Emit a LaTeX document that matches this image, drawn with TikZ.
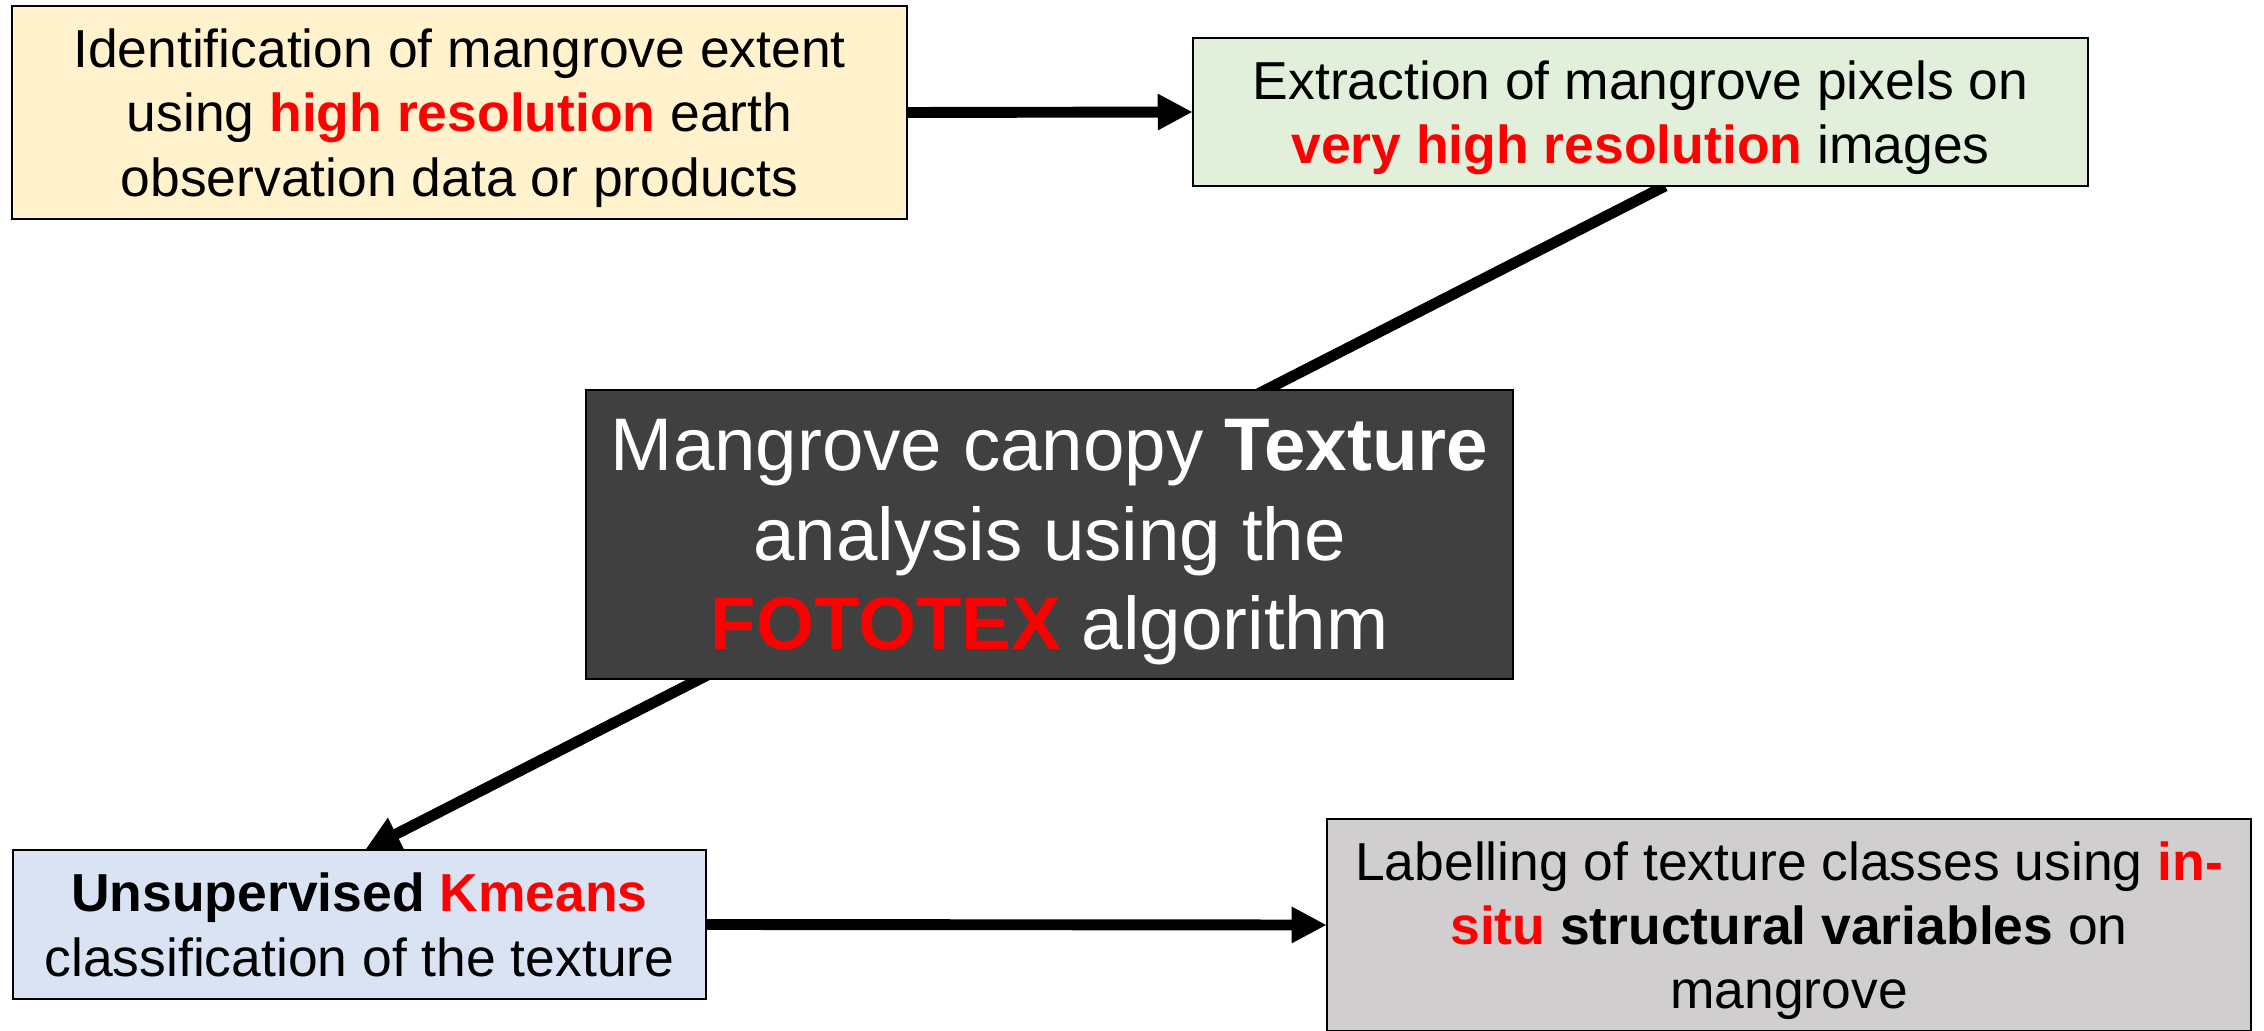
\documentclass[tikz,border=0pt]{standalone}
\usepackage{fontspec}
\setmainfont{Liberation Sans}
\usetikzlibrary{arrows.meta,backgrounds}
\definecolor{boxyellow}{HTML}{FFF2CC}
\definecolor{boxgreen}{HTML}{E2EFDA}
\definecolor{boxblue}{HTML}{DAE3F3}
\definecolor{boxgray}{HTML}{D0CECE}
\definecolor{boxdark}{HTML}{404040}
\definecolor{hl}{HTML}{FF0000}
\newcommand{\hlb}[1]{\textcolor{hl}{\textbf{#1}}}
\tikzset{
  box/.style={draw=black, line width=0.6pt, inner sep=0pt, outer sep=0pt, align=center,
    text depth=0pt, font=\fontsize{15.2}{18.3}\selectfont},
  conn/.style={line width=3.1pt, -{Triangle[length=0.35cm,width=0.34cm]}}
}
\begin{document}
\begin{tikzpicture}[x=0.01cm,y=-0.01cm]
\useasboundingbox (0,0) rectangle (2264,1031);
\node[box, fill=boxyellow, minimum width=8.95cm, minimum height=2.13cm] (ident) at (459.5,112.5)
  {Identification of mangrove extent\\ using \hlb{high resolution} earth\\ observation data or products};
\node[box, fill=boxgreen, minimum width=8.95cm, minimum height=1.48cm] (extr) at (1640.5,112)
  {Extraction of mangrove pixels on\\ \hlb{very high resolution} images};
\node[box, fill=boxblue, minimum width=6.93cm, minimum height=1.49cm] (kmeans) at (359.5,924.5)
  {\textbf{Unsupervised} \hlb{Kmeans}\\ classification of the texture};
\node[box, fill=boxgray, minimum width=9.24cm, minimum height=2.12cm] (label) at (1789,925)
  {Labelling of texture classes using \hlb{in-}\\ \hlb{situ} \textbf{structural variables} on\\ mangrove};
\node[box, fill=boxdark, text=white, minimum width=9.27cm, minimum height=2.89cm,
  font=\fontsize{21.2}{25.4}\selectfont] (texture) at (1049.5,534.5)
  {Mangrove canopy \textbf{Texture}\\ analysis using the\\ \hlb{FOTOTEX} algorithm};
\draw[conn] (ident.east) -- (extr.west);
\draw[conn] (kmeans.east) -- (label.west);
\begin{scope}[on background layer]
\draw[conn] ([xshift=0.245cm]extr.south) -- ([xshift=0.055cm]kmeans.north);
\end{scope}
\end{tikzpicture}
\end{document}
